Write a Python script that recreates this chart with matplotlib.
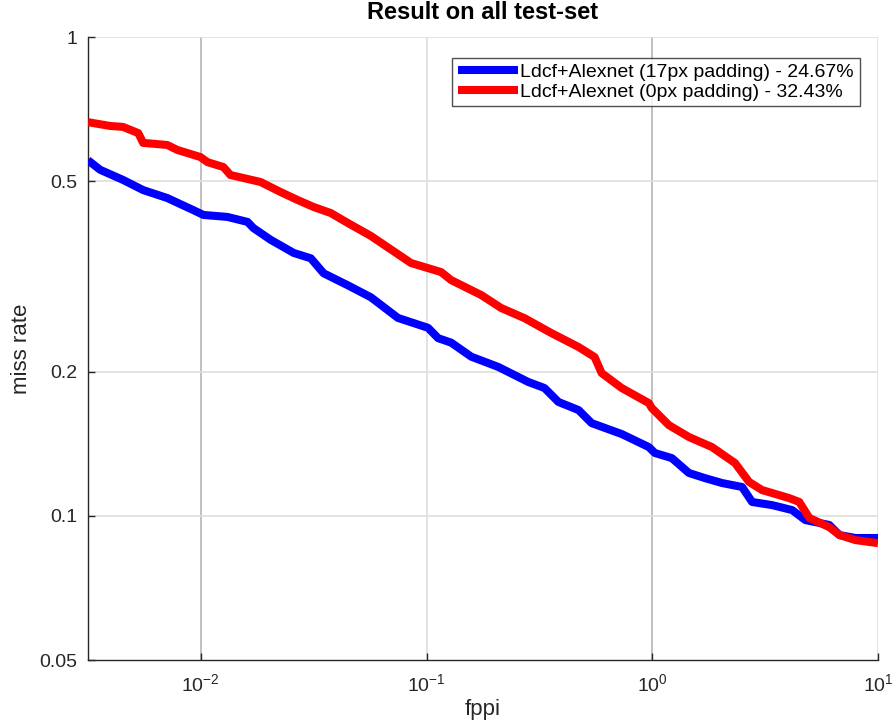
import matplotlib
matplotlib.use("Agg")
import matplotlib.pyplot as plt
from matplotlib.ticker import FixedLocator, NullLocator

plt.rcParams['font.family'] = ['Liberation Sans', 'DejaVu Sans']

title = "Result on all test-set"
xlabel = "fppi"
ylabel = "miss rate"

labels = ["Ldcf+Alexnet (17px padding) - 24.67%",
          "Ldcf+Alexnet (0px padding) - 32.43%"]
colors = ["#0000ff", "#ff0000"]

fppi_blue = [0.00316, 0.00358, 0.00452, 0.00555, 0.00710, 0.00926, 0.01026, 0.0131,
             0.0161, 0.0171, 0.0204, 0.0258, 0.0307, 0.0350, 0.0448, 0.0567, 0.0747,
             0.1015, 0.1125, 0.1285, 0.1577, 0.208, 0.2826, 0.333, 0.384, 0.4714,
             0.5384, 0.732, 0.965, 1.026, 1.221, 1.453, 1.711, 2.037, 2.499, 2.768,
             3.397, 4.169, 4.763, 6.086, 6.744, 7.943, 10.0]
miss_blue = [0.553, 0.528, 0.503, 0.479, 0.461, 0.435, 0.425, 0.421,
             0.411, 0.399, 0.377, 0.354, 0.345, 0.321, 0.303, 0.286, 0.259,
             0.247, 0.235, 0.230, 0.215, 0.2046, 0.1903, 0.1849, 0.1729, 0.1663,
             0.1562, 0.1482, 0.1392, 0.1353, 0.1320, 0.1229, 0.1199, 0.1171, 0.1149, 0.1069,
             0.1053, 0.1028, 0.0980, 0.0957, 0.0912, 0.0899, 0.0899]

fppi_red = [0.00316, 0.00396, 0.00452, 0.00528, 0.00555, 0.00710, 0.00786, 0.00995,
            0.01069, 0.01259, 0.01352, 0.01838, 0.02256, 0.02685, 0.03162, 0.03764,
            0.0448, 0.0567, 0.0853, 0.1160, 0.1285, 0.1747, 0.2143, 0.2712, 0.3574,
            0.4714, 0.5551, 0.5965, 0.732, 0.965, 0.995, 1.184, 1.453, 1.838, 2.326,
            2.685, 3.066, 4.044, 4.479, 4.962, 6.086, 6.744, 7.943, 10.0]
miss_red = [0.664, 0.652, 0.649, 0.630, 0.601, 0.595, 0.581, 0.5615,
            0.548, 0.535, 0.515, 0.498, 0.4745, 0.4566, 0.4415, 0.4289,
            0.4088, 0.3841, 0.3373, 0.3229, 0.3107, 0.2891, 0.2716, 0.2588, 0.2408,
            0.2252, 0.2146, 0.1987, 0.1849, 0.1720, 0.1679, 0.1547, 0.1461, 0.1392, 0.1289,
            0.1177, 0.1132, 0.1089, 0.1069, 0.0990, 0.0947, 0.0912, 0.0890, 0.0877]

xticks = [0.01, 0.1, 1, 10]
xtick_labels = [r"10$^{\mathregular{-2}}$", r"10$^{\mathregular{-1}}$",
                r"10$^{\mathregular{0}}$", r"10$^{\mathregular{1}}$"]
yticks = [0.05, 0.1, 0.2, 0.5, 1]
ytick_labels = ["0.05", "0.1", "0.2", "0.5", "1"]
xlim = (10 ** -2.5, 10)
ylim = (0.05, 1)

fig = plt.figure(figsize=(8.95, 7.27), dpi=100)
ax = fig.add_axes([88 / 895, 67 / 727, 790 / 895, 623 / 727])

ax.plot(fppi_blue, miss_blue, color=colors[0], lw=5.8, label=labels[0],
        solid_joinstyle='round', solid_capstyle='butt', zorder=3)
ax.plot(fppi_red, miss_red, color=colors[1], lw=5.8, label=labels[1],
        solid_joinstyle='round', solid_capstyle='butt', zorder=3)

ax.set_xscale('log')
ax.set_yscale('log')
ax.set_xlim(*xlim)
ax.set_ylim(*ylim)

ax.xaxis.set_major_locator(FixedLocator(xticks))
ax.set_xticklabels(xtick_labels)
ax.xaxis.set_minor_locator(NullLocator())
ax.yaxis.set_major_locator(FixedLocator(yticks))
ax.set_yticklabels(ytick_labels)
ax.yaxis.set_minor_locator(NullLocator())

# grid
xgrid_colors = ["#b4b4b4", "#dedede", "#b4b4b4", "#dedede"]
for xv, c in zip(xticks, xgrid_colors):
    ax.axvline(xv, color=c, lw=1.2, zorder=1)
for yv in yticks[1:]:
    ax.axhline(yv, color="#dedede", lw=1.2, zorder=1)

for s in ['top', 'right']:
    ax.spines[s].set_visible(False)
for s in ['left', 'bottom']:
    ax.spines[s].set_color('#262626')
    ax.spines[s].set_linewidth(1.0)

ax.tick_params(axis='both', which='major', direction='in', length=5, width=1,
               color='#262626', labelsize=14, labelcolor='#262626')
ax.tick_params(axis='x', pad=10)
ax.tick_params(axis='y', pad=8)

ax.set_xlabel(xlabel, fontsize=16, color='#262626', labelpad=2)
ax.set_ylabel(ylabel, fontsize=16, color='#262626', labelpad=5)
ax.set_title(title, fontsize=17, fontweight='bold', pad=13)

leg = ax.legend(loc='upper right', bbox_to_anchor=(0.977, 0.967), fontsize=14,
                frameon=True, fancybox=False, edgecolor='#262626',
                handlelength=3.1, handletextpad=0.1, borderpad=0.3,
                labelspacing=0.1, borderaxespad=0)
leg.get_frame().set_linewidth(1.0)

fig.savefig("out.png", dpi=100)
